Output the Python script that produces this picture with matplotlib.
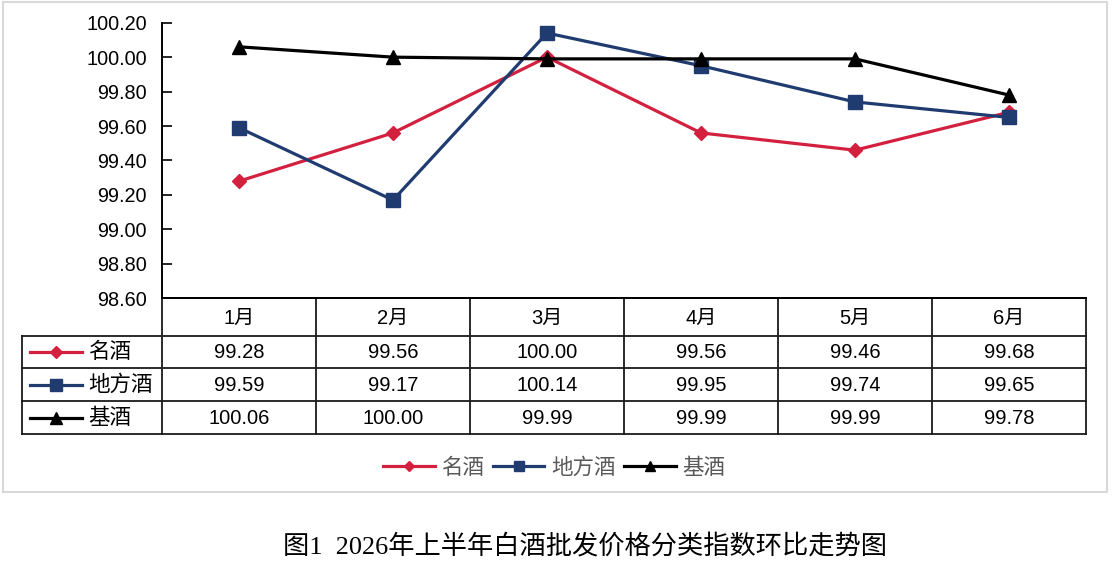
import matplotlib
matplotlib.use("Agg")
import matplotlib.pyplot as plt
from matplotlib.patches import Rectangle
from matplotlib.font_manager import FontProperties

# ---------------- data ----------------
months = ['1月', '2月', '3月', '4月', '5月', '6月']
series_names = ['名酒', '地方酒', '基酒']
mingjiu = [99.28, 99.56, 100.00, 99.56, 99.46, 99.68]
difang = [99.59, 99.17, 100.14, 99.95, 99.74, 99.65]
jijiu = [100.06, 100.00, 99.99, 99.99, 99.99, 99.78]
yticks = [98.60, 98.80, 99.00, 99.20, 99.40, 99.60, 99.80, 100.00, 100.20]
title = '图1  2026年上半年白酒批发价格分类指数环比走势图'

series = [mingjiu, difang, jijiu]
colors = ['#D3203F', '#1F3B70', '#000000']
markers = ['D', 's', '^']
msizes = [7, 9.5, 9.5]

W, H = 1114, 564
fig = plt.figure(figsize=(W / 100, H / 100), dpi=100)
fig.patch.set_facecolor('white')

num_font = ['Liberation Sans', 'Noto Sans CJK SC']
cjk_font = ['Noto Sans CJK SC', 'DejaVu Sans']

# overlay axes in pixel coordinates for table / frame
ov = fig.add_axes([0, 0, 1, 1], zorder=0)
ov.set_xlim(0, W)
ov.set_ylim(H, 0)
ov.axis('off')

# outer chart frame
ov.add_patch(Rectangle((3, 2), 1104, 490, fill=False, edgecolor='#D9D9D9', lw=1.5))

# main plot axes
x0, x1 = 162, 1086
ytop, ybot = 22.7, 298.3
ax = fig.add_axes([x0 / W, 1 - ybot / H, (x1 - x0) / W, (ybot - ytop) / H], zorder=2)
ax.set_facecolor('none')
xs = list(range(1, len(months) + 1))
lines = []
for vals, c, m, ms, name in zip(series, colors, markers, msizes, series_names):
    ln, = ax.plot(xs, vals, color=c, lw=2.3, marker=m, ms=ms, mfc=c, mec=c, label=name, clip_on=False)
    lines.append(ln)
ax.set_xlim(0.5, len(months) + 0.5)
ax.set_ylim(98.6, 100.2)
ax.set_yticks(yticks)
ax.set_yticklabels([f'{v:.2f}' for v in yticks], fontfamily=num_font, fontsize=14.3)
ax.set_xticks([])
for s in ['top', 'right']:
    ax.spines[s].set_visible(False)
ax.spines['left'].set_linewidth(1.4)
ax.spines['bottom'].set_linewidth(1.4)
ax.tick_params(axis='y', direction='in', length=7.2, width=1.2, pad=11, colors='black')

# ---------------- data table ----------------
cols = [162 + i * 154 for i in range(len(months) + 1)]
rows = [298.3, 335.7, 368.3, 401.0, 434.0]
lw_t = 1.3
tc = '#1a1a1a'
# horizontal lines
ov.plot([cols[0], cols[-1]], [rows[0], rows[0]], color=tc, lw=lw_t)
for r in rows[1:]:
    ov.plot([22, cols[-1]], [r, r], color=tc, lw=lw_t)
# vertical lines
for c in cols:
    ov.plot([c, c], [rows[0], rows[-1]], color=tc, lw=lw_t)
ov.plot([22, 22], [rows[1], rows[-1]], color=tc, lw=lw_t)

# header
for i, mth in enumerate(months):
    ov.text((cols[i] + cols[i + 1]) / 2, (rows[0] + rows[1]) / 2 + 1, mth,
            ha='center', va='center', fontsize=14.5, fontfamily=num_font, color='black')
# rows
for j, (vals, c, m, name) in enumerate(zip(series, colors, markers, series_names)):
    yc = (rows[j + 1] + rows[j + 2]) / 2
    ov.plot([30, 82], [yc, yc], color=c, lw=2.3)
    ov.plot([56], [yc], marker=m, color=c, ms=[6, 8, 8][j], mec=c)
    ov.text(88, yc, name, ha='left', va='center', fontsize=15.5, fontfamily=cjk_font, color='black')
    for i, v in enumerate(vals):
        ov.text((cols[i] + cols[i + 1]) / 2, yc + 1, f'{v:.2f}', ha='center', va='center',
                fontsize=14.5, fontfamily=num_font, color='black')

# ---------------- legend ----------------
leg = fig.legend(handles=lines, labels=series_names, loc='center',
                 bbox_to_anchor=(554 / W, 1 - 468 / H), ncol=3, frameon=False,
                 prop=FontProperties(family=cjk_font, size=15.5), labelcolor='#595959',
                 handlelength=2.4, handletextpad=0.3, columnspacing=0.4, markerscale=0.8)

# ---------------- title ----------------
fig.text(585 / W, 1 - 547 / H, title, ha='center', va='center', fontsize=18.9,
         fontfamily=['Liberation Serif', 'Noto Sans CJK SC'], color='black')

fig.savefig('out.png', dpi=100, facecolor='white')
